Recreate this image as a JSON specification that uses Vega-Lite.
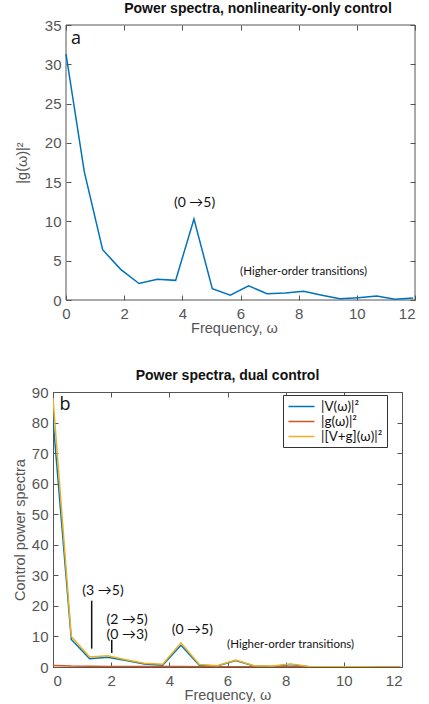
{
  "$schema": "https://vega.github.io/schema/vega-lite/v6.json",
  "padding": {"left": 11, "top": 2, "right": 0, "bottom": 0},
  "spacing": 33,
  "config": {
    "view": {"stroke": "#555", "strokeWidth": 1},
    "font": "Liberation Sans",
    "axis": {"grid": false, "domain": false, "tickColor": "#555", "tickSize": -5, "labelFont": "Liberation Sans", "labelFontSize": 15, "labelColor": "#555", "titleFont": "Liberation Sans", "titleFontSize": 14.5, "titleFontWeight": "normal", "titleColor": "#555"},
    "axisX": {"labelPadding": 11, "titlePadding": 0},
    "axisY": {"labelPadding": 10},
    "title": {"font": "Liberation Sans", "fontSize": 14, "fontWeight": "bold", "color": "#111", "offset": 2},
    "line": {"strokeWidth": 1.5}
  },
  "datasets": {
    "top": [
      {"w": 0, "value": 31.3}, {"w": 0.63, "value": 16.3}, {"w": 1.26, "value": 6.4}, {"w": 1.88, "value": 3.9},
      {"w": 2.51, "value": 2.1}, {"w": 3.14, "value": 2.65}, {"w": 3.77, "value": 2.5}, {"w": 4.4, "value": 10.3},
      {"w": 5.03, "value": 1.45}, {"w": 5.65, "value": 0.6}, {"w": 6.28, "value": 1.8}, {"w": 6.91, "value": 0.8},
      {"w": 7.54, "value": 0.9}, {"w": 8.17, "value": 1.1}, {"w": 8.8, "value": 0.6}, {"w": 9.42, "value": 0.15},
      {"w": 10.05, "value": 0.3}, {"w": 10.68, "value": 0.5}, {"w": 11.31, "value": 0.1}, {"w": 11.94, "value": 0.25}
    ],
    "topFrame": [{"w": 0, "w2": 12, "value": 0, "value2": 35}],
    "bottom": [
      {"w": 0, "value": 81, "series": "|V(ω)|²"}, {"w": 0.63, "value": 9, "series": "|V(ω)|²"}, {"w": 1.26, "value": 2.7, "series": "|V(ω)|²"}, {"w": 1.88, "value": 3.2, "series": "|V(ω)|²"},
      {"w": 2.51, "value": 2.1, "series": "|V(ω)|²"}, {"w": 3.14, "value": 1.0, "series": "|V(ω)|²"}, {"w": 3.77, "value": 0.6, "series": "|V(ω)|²"}, {"w": 4.4, "value": 7.1, "series": "|V(ω)|²"},
      {"w": 5.03, "value": 0.6, "series": "|V(ω)|²"}, {"w": 5.65, "value": 0.3, "series": "|V(ω)|²"}, {"w": 6.28, "value": 2.1, "series": "|V(ω)|²"}, {"w": 6.91, "value": 0.3, "series": "|V(ω)|²"},
      {"w": 7.54, "value": 0.2, "series": "|V(ω)|²"}, {"w": 8.17, "value": 0.8, "series": "|V(ω)|²"}, {"w": 8.8, "value": 0.1, "series": "|V(ω)|²"}, {"w": 9.42, "value": 0.05, "series": "|V(ω)|²"},
      {"w": 10.05, "value": 0.05, "series": "|V(ω)|²"}, {"w": 10.68, "value": 0.05, "series": "|V(ω)|²"}, {"w": 11.31, "value": 0.03, "series": "|V(ω)|²"}, {"w": 11.94, "value": 0.03, "series": "|V(ω)|²"},
      {"w": 0, "value": 0.5, "series": "|g(ω)|²"}, {"w": 0.63, "value": 0.3, "series": "|g(ω)|²"}, {"w": 1.26, "value": 0.25, "series": "|g(ω)|²"}, {"w": 1.88, "value": 0.2, "series": "|g(ω)|²"},
      {"w": 2.51, "value": 0.2, "series": "|g(ω)|²"}, {"w": 3.14, "value": 0.15, "series": "|g(ω)|²"}, {"w": 3.77, "value": 0.15, "series": "|g(ω)|²"}, {"w": 4.4, "value": 0.2, "series": "|g(ω)|²"},
      {"w": 5.03, "value": 0.1, "series": "|g(ω)|²"}, {"w": 5.65, "value": 0.1, "series": "|g(ω)|²"}, {"w": 6.28, "value": 0.1, "series": "|g(ω)|²"}, {"w": 6.91, "value": 0.1, "series": "|g(ω)|²"},
      {"w": 7.54, "value": 0.1, "series": "|g(ω)|²"}, {"w": 8.17, "value": 0.1, "series": "|g(ω)|²"}, {"w": 8.8, "value": 0.05, "series": "|g(ω)|²"}, {"w": 9.42, "value": 0.05, "series": "|g(ω)|²"},
      {"w": 10.05, "value": 0.03, "series": "|g(ω)|²"}, {"w": 10.68, "value": 0.03, "series": "|g(ω)|²"}, {"w": 11.31, "value": 0.02, "series": "|g(ω)|²"}, {"w": 11.94, "value": 0.02, "series": "|g(ω)|²"},
      {"w": 0, "value": 88, "series": "|[V+g](ω)|²"}, {"w": 0.63, "value": 10, "series": "|[V+g](ω)|²"}, {"w": 1.26, "value": 3.3, "series": "|[V+g](ω)|²"}, {"w": 1.88, "value": 3.7, "series": "|[V+g](ω)|²"},
      {"w": 2.51, "value": 2.4, "series": "|[V+g](ω)|²"}, {"w": 3.14, "value": 1.2, "series": "|[V+g](ω)|²"}, {"w": 3.77, "value": 0.9, "series": "|[V+g](ω)|²"}, {"w": 4.4, "value": 7.9, "series": "|[V+g](ω)|²"},
      {"w": 5.03, "value": 0.8, "series": "|[V+g](ω)|²"}, {"w": 5.65, "value": 0.4, "series": "|[V+g](ω)|²"}, {"w": 6.28, "value": 2.3, "series": "|[V+g](ω)|²"}, {"w": 6.91, "value": 0.4, "series": "|[V+g](ω)|²"},
      {"w": 7.54, "value": 0.3, "series": "|[V+g](ω)|²"}, {"w": 8.17, "value": 1.0, "series": "|[V+g](ω)|²"}, {"w": 8.8, "value": 0.2, "series": "|[V+g](ω)|²"}, {"w": 9.42, "value": 0.05, "series": "|[V+g](ω)|²"},
      {"w": 10.05, "value": 0.05, "series": "|[V+g](ω)|²"}, {"w": 10.68, "value": 0.05, "series": "|[V+g](ω)|²"}, {"w": 11.31, "value": 0.03, "series": "|[V+g](ω)|²"}, {"w": 11.94, "value": 0.03, "series": "|[V+g](ω)|²"}
    ],
    "topText": [
      {"w": 4.42, "value": 12.4, "label": "(0 →5)", "size": 14},
      {"w": 8.17, "value": 3.6, "label": "(Higher-order transitions)", "size": 11.5}
    ],
    "topLetter": [{"w": 0.34, "value": 32.6, "label": "a"}],
    "bottomText": [
      {"w": 1.72, "value": 24.8, "label": "(3 →5)", "size": 14},
      {"w": 2.55, "value": 15.4, "label": "(2 →5)", "size": 14},
      {"w": 2.55, "value": 10.6, "label": "(0 →3)", "size": 14},
      {"w": 4.79, "value": 12.2, "label": "(0 →5)", "size": 14},
      {"w": 8.17, "value": 7.3, "label": "(Higher-order transitions)", "size": 11.5}
    ],
    "bottomLetter": [{"w": 0.41, "value": 84.1, "label": "b"}],
    "bottomRules": [
      {"w": 1.33, "value": 21.7, "value2": 6},
      {"w": 2.02, "value": 8.9, "value2": 4.6}
    ]
  },
  "vconcat": [
    {
      "title": {"text": "Power spectra, nonlinearity-only control", "dx": 24},
      "width": 362, "height": 275,
      "view": {"stroke": null},
      "resolve": {"axis": {"x": "independent", "y": "independent"}},
      "layer": [
        {
          "data": {"name": "topFrame"},
          "mark": {"type": "rect", "fill": null, "stroke": "#555", "strokeWidth": 1},
          "encoding": {
            "x": {"field": "w", "type": "quantitative", "scale": {"domain": [-0.447, 12], "nice": false}, "axis": null},
            "x2": {"field": "w2"},
            "y": {"field": "value", "type": "quantitative", "scale": {"domain": [0, 35], "nice": false}, "axis": null},
            "y2": {"field": "value2"}
          }
        },
        {
          "data": {"name": "top"},
          "mark": {"type": "line", "color": "#0072BD", "clip": true},
          "encoding": {
            "x": {"field": "w", "type": "quantitative", "axis": {"values": [0, 2, 4, 6, 8, 10, 12], "title": "Frequency, ω"}},
            "y": {"field": "value", "type": "quantitative", "axis": {"values": [0, 5, 10, 15, 20, 25, 30, 35], "title": "|g(ω)|²", "titlePadding": 15, "offset": -13}}
          }
        },
        {
          "data": {"name": "top"},
          "mark": {"type": "line", "opacity": 0},
          "encoding": {
            "x": {"field": "w", "type": "quantitative", "axis": {"orient": "top", "labels": false, "title": null, "values": [0, 2, 4, 6, 8, 10, 12]}},
            "y": {"field": "value", "type": "quantitative", "axis": {"orient": "right", "labels": false, "title": null, "values": [0, 5, 10, 15, 20, 25, 30, 35]}}
          }
        },
        {
          "data": {"name": "topText"},
          "mark": {"type": "text", "font": "Lato", "color": "#111"},
          "encoding": {
            "x": {"field": "w", "type": "quantitative", "axis": null},
            "y": {"field": "value", "type": "quantitative", "axis": null},
            "text": {"field": "label"},
            "size": {"field": "size", "type": "quantitative", "scale": null}
          }
        },
        {
          "data": {"name": "topLetter"},
          "mark": {"type": "text", "font": "Open Sans", "fontSize": 18, "baseline": "alphabetic", "color": "#111"},
          "encoding": {
            "x": {"field": "w", "type": "quantitative", "axis": null},
            "y": {"field": "value", "type": "quantitative", "axis": null},
            "text": {"field": "label"}
          }
        }
      ]
    },
    {
      "title": {"text": "Power spectra, dual control"},
      "width": 349, "height": 275,
      "resolve": {"axis": {"x": "independent", "y": "independent"}},
      "layer": [
        {
          "data": {"name": "bottom"},
          "mark": {"type": "line", "clip": true},
          "encoding": {
            "x": {"field": "w", "type": "quantitative", "scale": {"domain": [0, 12], "nice": false}, "axis": {"values": [0, 2, 4, 6, 8, 10, 12], "title": "Frequency, ω"}},
            "y": {"field": "value", "type": "quantitative", "scale": {"domain": [0, 90], "nice": false}, "axis": {"values": [0, 10, 20, 30, 40, 50, 60, 70, 80, 90], "title": "Control power spectra", "titlePadding": 4}},
            "color": {"field": "series", "type": "nominal", "scale": {"domain": ["|V(ω)|²", "|g(ω)|²", "|[V+g](ω)|²"], "range": ["#0072BD", "#D95319", "#EDB120"]},
              "legend": {"title": null, "orient": "none", "legendX": 230, "legendY": 370, "symbolType": "M-2,0H2", "symbolSize": 169, "symbolStrokeWidth": 2, "symbolOffset": 7, "labelFont": "Lato", "labelFontSize": 13.5, "labelColor": "#111", "strokeColor": "#333", "padding": 4, "rowPadding": 1, "labelOffset": 12, "fillColor": "white"}}
          }
        },
        {
          "data": {"name": "bottom"},
          "mark": {"type": "line", "opacity": 0},
          "encoding": {
            "x": {"field": "w", "type": "quantitative", "axis": {"orient": "top", "labels": false, "title": null, "values": [0, 2, 4, 6, 8, 10, 12]}},
            "y": {"field": "value", "type": "quantitative", "axis": {"orient": "right", "labels": false, "title": null, "values": [0, 10, 20, 30, 40, 50, 60, 70, 80, 90]}}
          }
        },
        {
          "data": {"name": "bottomRules"},
          "mark": {"type": "rule", "color": "#111", "strokeWidth": 1.5},
          "encoding": {
            "x": {"field": "w", "type": "quantitative", "axis": null},
            "y": {"field": "value", "type": "quantitative", "axis": null},
            "y2": {"field": "value2"}
          }
        },
        {
          "data": {"name": "bottomText"},
          "mark": {"type": "text", "font": "Lato", "color": "#111"},
          "encoding": {
            "x": {"field": "w", "type": "quantitative", "axis": null},
            "y": {"field": "value", "type": "quantitative", "axis": null},
            "text": {"field": "label"},
            "size": {"field": "size", "type": "quantitative", "scale": null}
          }
        },
        {
          "data": {"name": "bottomLetter"},
          "mark": {"type": "text", "font": "Open Sans", "fontSize": 18, "baseline": "alphabetic", "color": "#111"},
          "encoding": {
            "x": {"field": "w", "type": "quantitative", "axis": null},
            "y": {"field": "value", "type": "quantitative", "axis": null},
            "text": {"field": "label"}
          }
        }
      ]
    }
  ]
}
